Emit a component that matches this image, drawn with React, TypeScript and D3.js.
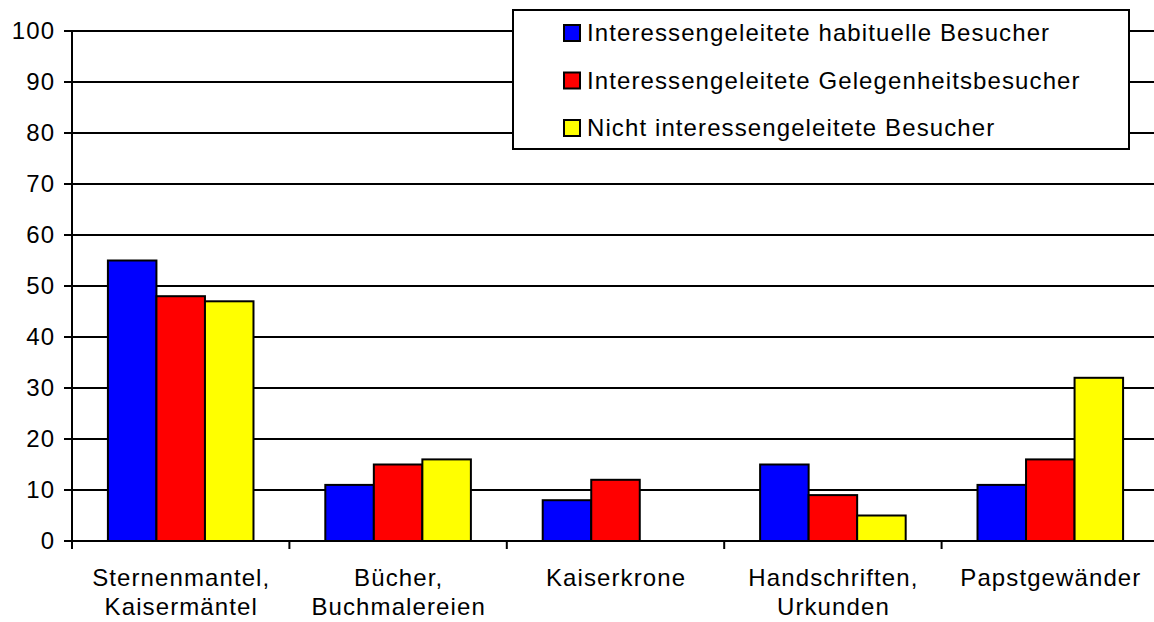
import React from "react";
import * as d3 from "d3";

const categories: string[][] = [
  ["Sternenmantel,", "Kaisermäntel"],
  ["Bücher,", "Buchmalereien"],
  ["Kaiserkrone"],
  ["Handschriften,", "Urkunden"],
  ["Papstgewänder"],
];
const seriesNames = [
  "Interessengeleitete habituelle Besucher",
  "Interessengeleitete Gelegenheitsbesucher",
  "Nicht interessengeleitete Besucher",
];
const seriesColors = ["#0000ff", "#ff0000", "#ffff00"];
const habituell = [55, 11, 8, 15, 11];
const gelegenheit = [48, 15, 12, 9, 16];
const nicht = [47, 16, 0, 5, 32];
const yTicks = [0, 10, 20, 30, 40, 50, 60, 70, 80, 90, 100];

const W = 1154;
const H = 622;
const FONT = "'Liberation Sans', Arial, sans-serif";
const LS = 1.1;

export default function App() {
  const values = [habituell, gelegenheit, nicht];
  const catKeys = categories.map((c) => c.join(" "));
  const x0 = d3.scaleBand<string>().domain(catKeys).range([72, 1159]).paddingInner(0).paddingOuter(0);
  const x1 = d3
    .scaleBand<number>()
    .domain([0, 1, 2])
    .range([0, x0.bandwidth()])
    .paddingInner(0)
    .paddingOuter(0.74);
  const y = d3.scaleLinear().domain([0, 100]).range([541, 31]);
  const boundaries = [...catKeys.map((k) => x0(k)!), 1159];

  return (
    <svg
      width={W}
      height={H}
      style={{ position: "absolute", left: 0, top: 0, background: "#fff" }}
      fontFamily={FONT}
    >
      {/* gridlines */}
      {yTicks.map((t) => (
        <line key={"g" + t} x1={64} x2={1159} y1={y(t)} y2={y(t)} stroke="#000" strokeWidth={2} />
      ))}
      {/* y labels */}
      {yTicks.map((t) => (
        <text
          key={"yl" + t}
          x={54 + LS}
          y={y(t)}
          dy="0.35em"
          textAnchor="end"
          fontSize={24}
          letterSpacing={LS}
          fill="#000"
        >
          {t}
        </text>
      ))}
      {/* bars */}
      {catKeys.map((k, ci) =>
        values.map((vals, si) =>
          vals[ci] > 0 ? (
            <rect
              key={k + si}
              x={x0(k)! + x1(si)!}
              y={y(vals[ci])}
              width={x1.bandwidth()}
              height={y(0) - y(vals[ci])}
              fill={seriesColors[si]}
              stroke="#000"
              strokeWidth={2}
            />
          ) : null
        )
      )}
      {/* axes */}
      <line x1={72} x2={72} y1={y(100)} y2={y(0)} stroke="#000" strokeWidth={2} />
      <line x1={64} x2={1159} y1={y(0)} y2={y(0)} stroke="#000" strokeWidth={2} />
      {boundaries.map((b, i) => (
        <line key={"xt" + i} x1={b} x2={b} y1={y(0)} y2={y(0) + 8} stroke="#000" strokeWidth={2} />
      ))}
      {/* x labels */}
      {categories.map((lines, ci) => (
        <text key={"xl" + ci} textAnchor="middle" fontSize={24} letterSpacing={LS} fill="#000">
          {lines.map((ln, li) => (
            <tspan key={li} x={x0(catKeys[ci])! + x0.bandwidth() / 2 + LS / 2} y={586 + li * 29}>
              {ln}
            </tspan>
          ))}
        </text>
      ))}
      {/* legend */}
      <rect x={513} y={10} width={616} height={139} fill="#fff" stroke="#000" strokeWidth={2} />
      {seriesNames.map((s, i) => (
        <g key={"lg" + i} transform={`translate(0, ${33 + i * 47.5})`}>
          <rect x={564} y={-8} width={16} height={16} fill={seriesColors[i]} stroke="#000" strokeWidth={2} />
          <text x={587} y={0} dy="0.35em" fontSize={24} letterSpacing={LS} fill="#000">
            {s}
          </text>
        </g>
      ))}
    </svg>
  );
}
